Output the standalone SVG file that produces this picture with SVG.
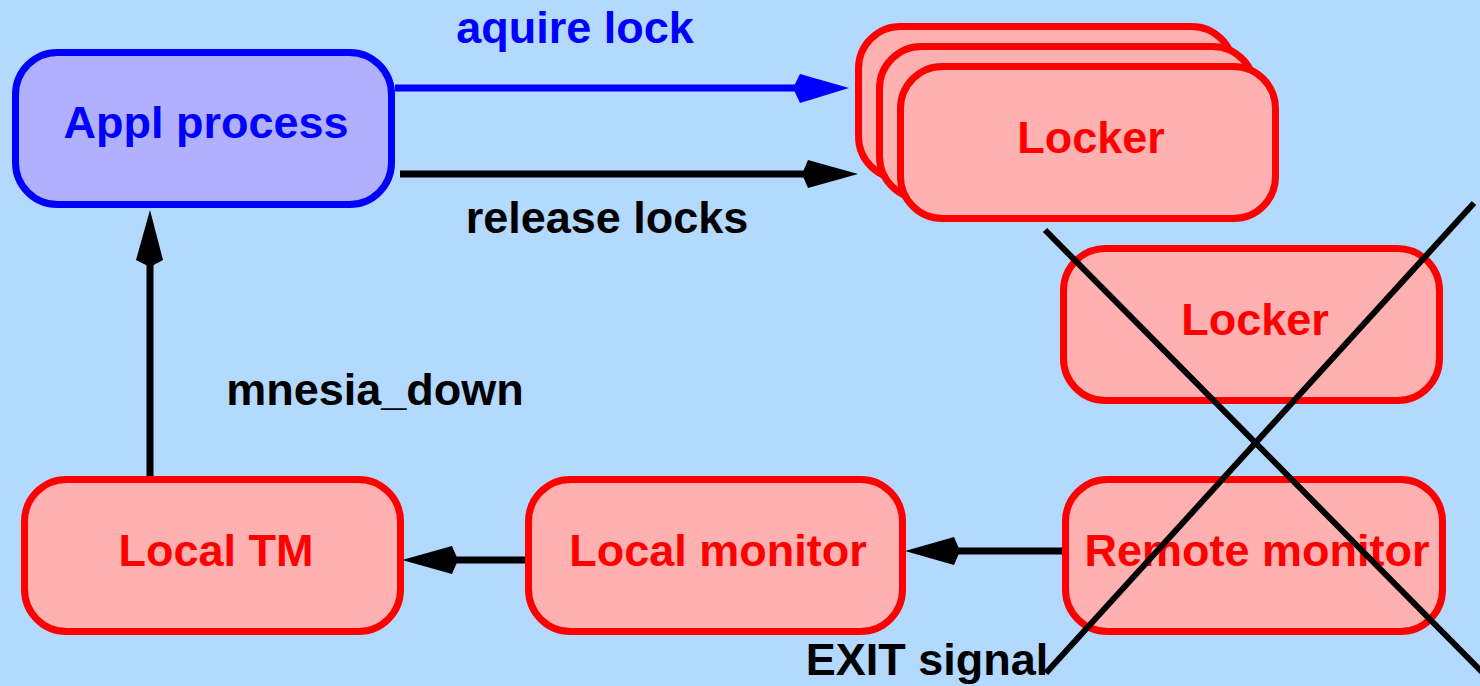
<svg xmlns="http://www.w3.org/2000/svg" width="1480" height="686" viewBox="0 0 1480 686">
<style>
.box{fill:#ffb0b0;stroke:#ff0000;stroke-width:7}
.appl{fill:#b0b0ff;stroke:#0000ff;stroke-width:7}
.t{font-family:"Liberation Sans",Arial,sans-serif;font-weight:bold;font-size:45px;text-anchor:middle}
.red{fill:#ff0000}
.blue{fill:#0000ff}
.blk{fill:#000000}
.ln{stroke:#000;stroke-width:7;fill:none}
</style>
<rect x="0" y="0" width="1480" height="686" fill="#b3d9ff"/>
<g id="connectors">
<line x1="395" y1="88" x2="800" y2="88" stroke="#0000ff" stroke-width="7"/>
<polygon points="849,88 800,74 793,88 800,103" fill="#0000ff"/>
<line x1="400" y1="174" x2="808" y2="174" class="ln"/>
<polygon points="858,174 808,160 802,174 808,188" fill="#000"/>
<line x1="150" y1="478" x2="150" y2="260" class="ln"/>
<polygon points="150,210 136,260 150,267 163,260" fill="#000"/>
<line x1="527" y1="560" x2="452" y2="560" class="ln"/>
<polygon points="402,560 452,546 458,560 452,574" fill="#000"/>
<line x1="1062" y1="551" x2="954" y2="551" class="ln"/>
<polygon points="905,551 954,537 960,551 954,565" fill="#000"/>
</g>
<g id="appl">
<rect class="appl" x="15.5" y="52.5" width="376" height="152" rx="42"/>
<text class="t blue" x="206" y="138">Appl process</text>
</g>
<g id="locker-stack">
<rect class="box" x="858.5" y="26.5" width="375" height="152" rx="42"/>
<rect class="box" x="879.5" y="46.5" width="375" height="152" rx="42"/>
<rect class="box" x="900.5" y="66.5" width="375" height="152" rx="42"/>
<text class="t red" x="1091" y="153">Locker</text>
</g>
<g id="locker2">
<rect class="box" x="1063.5" y="248.5" width="376" height="152" rx="42"/>
<text class="t red" x="1255" y="335">Locker</text>
</g>
<g id="local-tm">
<rect class="box" x="24.5" y="479.5" width="376" height="152" rx="42"/>
<text class="t red" x="216" y="566">Local TM</text>
</g>
<g id="local-monitor">
<rect class="box" x="528.5" y="479.5" width="374" height="152" rx="42"/>
<text class="t red" x="718" y="566">Local monitor</text>
</g>
<g id="remote-monitor">
<rect class="box" x="1065.5" y="479.5" width="377" height="152" rx="42"/>
<text class="t red" x="1257" y="566">Remote monitor</text>
</g>
<g id="labels">
<text class="t blue" x="575" y="43">aquire lock</text>
<text class="t blk" x="607" y="233">release locks</text>
<text class="t blk" x="375" y="405">mnesia_down</text>
<text class="t blk" x="927" y="675">EXIT signal</text>
</g>
<g id="cross">
<line x1="1045" y1="230" x2="1482" y2="672" stroke="#000" stroke-width="6"/>
<line x1="1474" y1="203" x2="1046" y2="673" stroke="#000" stroke-width="6"/>
</g>
</svg>
